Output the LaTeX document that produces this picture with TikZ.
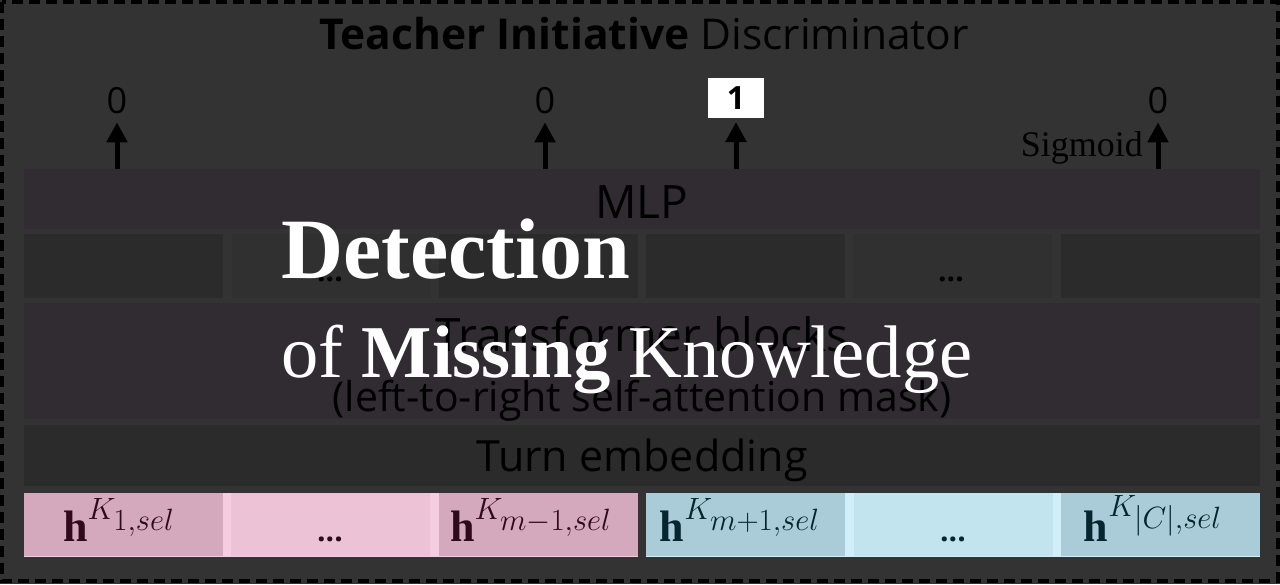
\RequirePackage{fix-cm}
\documentclass[tikz,border=0pt]{standalone}
\usepackage{amsmath}
\usepackage{fontspec}
\setmainfont{Liberation Serif}
\setsansfont{Open Sans}
\usetikzlibrary{arrows.meta,positioning}

\definecolor{bgdark}{HTML}{333333}
\definecolor{barpurple}{HTML}{312B32}
\definecolor{boxdark}{HTML}{2B2B2B}
\definecolor{boxmid}{HTML}{303030}
\definecolor{pinkdark}{HTML}{D4A9BD}
\definecolor{pinklight}{HTML}{EBC2D6}
\definecolor{pinkstrip}{HTML}{F5CDE0}
\definecolor{bluedark}{HTML}{A9CCD8}
\definecolor{bluelight}{HTML}{C2E4EF}
\definecolor{bluestrip}{HTML}{D0EFFA}
\definecolor{pinkink}{HTML}{2E0A1C}
\definecolor{blueink}{HTML}{06262F}

\tikzset{
  layer/.style={anchor=north west, inner sep=0pt, outer sep=0pt, minimum width=1236pt},
  cell/.style={anchor=north west, inner sep=0pt, outer sep=0pt, minimum width=199pt, minimum height=#1},
  bartext/.style={anchor=base, inner sep=0pt, text=black, font=\sffamily\fontsize{#1}{#1}\selectfont},
  outnum/.style={anchor=base, inner sep=0pt, outer sep=9pt, text=black, font=\sffamily\fontsize{36}{40}\selectfont},
  dots/.style={anchor=base, inner sep=0pt, font=\sffamily\bfseries\fontsize{30}{30}\selectfont},
  emblabel/.style={anchor=base, inner sep=0pt, text=#1, font=\fontsize{44}{48}\selectfont},
  outarrow/.style={line width=5pt, -{Triangle[width=20pt,length=20pt]}},
  headline/.style={anchor=base west, inner sep=0pt, text=white, font=\fontsize{#1}{#1}\selectfont}
}

\begin{document}
\begin{tikzpicture}[x=1pt,y=-1pt]
\useasboundingbox (0,0) rectangle (1280,584);
\fill[bgdark] (0,0) rectangle (1280,584);
\draw[black, line width=3.5pt, dash pattern=on 11pt off 6pt] (2,2) rectangle (1278,581);

\node[bartext=42.5] (title) at (644,49) {\textbf{Teacher Initiative} Discriminator};

% layers
\node[layer, fill=barpurple, minimum height=60pt] (mlp) at (24,169) {};
\node[cell=64pt, fill=boxdark] (c1) at (24,234) {};
\node[cell=64pt, fill=boxmid] (c2) at (232,234) {};
\node[cell=64pt, fill=boxdark] (c3) at (439,234) {};
\node[cell=64pt, fill=boxdark] (c4) at (646,234) {};
\node[cell=64pt, fill=boxmid] (c5) at (853,234) {};
\node[cell=64pt, fill=boxdark] (c6) at (1061,234) {};
\node[layer, fill=barpurple, minimum height=116pt] (trans) at (24,303) {};
\node[layer, fill=boxdark, minimum height=61pt] (turn) at (24,425) {};

\node[bartext=46] (mlptext) at (642,218) {MLP};
\node[dots] (d1) at (330,281) {...};
\node[dots] (d2) at (951,281) {...};
\node[bartext=46] (transtext) at (642,351) {Transformer blocks};
\node[bartext=41] (masktext) at (642,411) {(left-to-right self-attention mask)};
\node[bartext=43] (turntext) at (642,471) {Turn embedding};

% embeddings
\fill[pinkstrip] (24,493) rectangle (638,557);
\fill[bluestrip] (646,493) rectangle (1260,557);
\node[cell=63pt, fill=pinkdark] (e1) at (24,493) {};
\node[cell=63pt, fill=pinklight] (e2) at (231,493) {};
\node[cell=63pt, fill=pinkdark] (e3) at (439,493) {};
\node[cell=63pt, fill=bluedark] (e4) at (646,493) {};
\node[cell=63pt, fill=bluelight] (e5) at (854,493) {};
\node[cell=63pt, fill=bluedark] (e6) at (1061,493) {};

\node[emblabel=pinkink] (l1) at (119,541) {$\mathbf{h}^{K_{\scriptstyle 1,sel}}$};
\node[dots, text=pinkink] (l2) at (330,541) {...};
\node[emblabel=pinkink] (l3) at (531,541) {$\mathbf{h}^{K_{\scriptstyle m-1,sel}}$};
\node[emblabel=blueink] (l4) at (740,541) {$\mathbf{h}^{K_{\scriptstyle m+1,sel}}$};
\node[dots, text=blueink] (l5) at (953,541) {...};
\node[emblabel=blueink] (l6) at (1153,541) {$\mathbf{h}^{K_{\scriptstyle |C|,sel}}$};

% outputs
\node[outnum] (o1) at (117,113) {0};
\node[outnum] (o2) at (545,113) {0};
\node[fill=white, inner sep=0pt, outer sep=4pt, minimum width=56pt, minimum height=40pt,
      font=\sffamily\bfseries\fontsize{32}{32}\selectfont] (o3) at (736,98) {1};
\node[outnum] (o4) at (1158,113) {0};
\node[anchor=base east, inner sep=0pt, font=\fontsize{36}{36}\selectfont] (sig) at (1143,156) {Sigmoid};

\foreach \o in {o1,o2,o3,o4}
  \draw[outarrow] (mlp.north -| \o) -- (\o.south);

% overlay heading
\node[headline=86] (head1) at (281,278) {\bfseries Detection};
\node[headline=74.5] (head2) at (281,377) {of \textbf{Missing} Knowledge};
\end{tikzpicture}
\end{document}
